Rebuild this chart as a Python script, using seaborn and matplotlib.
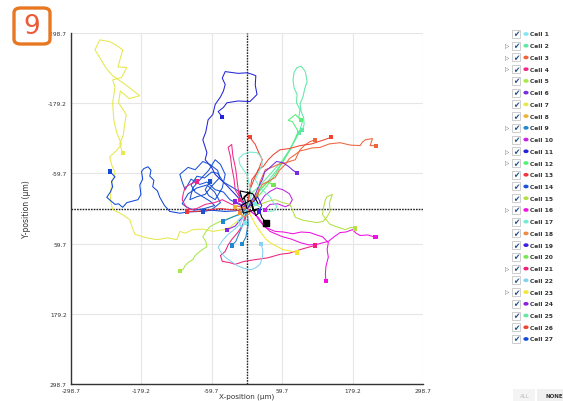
import numpy as np
import pandas as pd
import matplotlib.pyplot as plt
import seaborn as sns
from matplotlib.patches import FancyBboxPatch, Rectangle, Circle

# ---- cell colours (legend order) ----
cell_names = [f"Cell {i}" for i in range(1, 28)]
cell_colors = ["#7fe6f2", "#5fe8a4", "#f0643c", "#f0288a", "#a8e84a", "#7a2ce0",
               "#e6e84c", "#f0b232", "#1e88d0", "#c424e4", "#2424d8", "#52f074",
               "#f03440", "#1a52d4", "#b4e044", "#f010e0", "#72ecd2", "#f08a40",
               "#3a20e0", "#74e852", "#f0207a", "#84d2f2", "#f0e830", "#8a22e0",
               "#62e8a2", "#f04432", "#1048d8"]
has_arrow = [2, 3, 4, 9, 11, 12, 16, 21, 23]

# ---- tracks in µm (x, y) ; y axis is drawn inverted ----
cell7_a = [(0, 0), (-12, 18), (-29, 32), (-40, 36), (-58, 39), (-75, 35), (-92, 36), (-105, 42),
           (-114, 39), (-119, 53), (-135, 50), (-153, 53), (-170, 50), (-190, 44), (-195, 32),
           (-199, 19), (-212, 10), (-228, 2), (-232, -15), (-230, -41), (-224, -61), (-230, -75),
           (-233, -88), (-222, -98), (-213, -109), (-221, -129), (-226, -150), (-228, -180),
           (-224, -207), (-228, -219), (-213, -223), (-204, -240), (-219, -241), (-211, -270),
           (-222, -278), (-233, -284), (-250, -287), (-258, -270), (-250, -257), (-240, -240),
           (-228, -226), (-205, -210), (-182, -192), (-200, -187), (-215, -200), (-218, -180),
           (-205, -160), (-208, -140), (-210, -125), (-216, -110), (-211, -94)]
cell11_a = [(0, 0), (-12, -15), (-20, -24), (-35, -40), (-54, -58), (-60, -70), (-71, -83),
            (-68, -95), (-75, -117), (-70, -130), (-66, -151), (-58, -160), (-54, -177),
            (-45, -190), (-40, -200), (-37, -211), (-42, -222), (-37, -233), (-15, -230),
            (0, -231), (10, -228), (15, -226), (14, -210), (17, -194), (5, -182), (-15, -183),
            (-34, -180), (-40, -172), (-49, -165), (-42, -156)]
cell14_a = [(0, 0), (-29, -15), (-40, -28), (-54, -32), (-68, -45), (-80, -41), (-95, -50),
            (-105, -32), (-110, -45), (-114, -58), (-100, -70), (-88, -66), (-75, -80),
            (-63, -75), (-50, -65), (-46, -53), (-60, -38), (-71, -24), (-85, -20), (-97, -15),
            (-92, -35), (-80, -49), (-65, -65), (-54, -83), (-45, -75), (-37, -58), (-42, -35),
            (-54, -15), (-65, -22), (-71, -32), (-63, -46)]
cell14_b = [(0, 0), (-15, -30), (-28, -38), (-40, -45), (-50, -60), (-60, -62), (-72, -52),
            (-85, -55), (-95, -40), (-88, -28), (-75, -20), (-62, -12), (-55, -5), (-72, 0),
            (-90, 3), (-102, -2), (-110, -8), (-100, -25), (-85, -35), (-68, -40), (-55, -28),
            (-45, -10), (-60, 2), (-75, 5)]
cell27_a = [(0, 0), (-20, 4), (-37, 5), (-60, 3), (-80, 5), (-100, 6), (-114, 8), (-131, 5),
            (-140, -5), (-148, -19), (-152, -30), (-160, -37), (-158, -48), (-165, -55),
            (-163, -65), (-168, -71), (-175, -68), (-179, -63), (-177, -50), (-182, -40),
            (-180, -24), (-185, -15), (-204, -10), (-211, -2), (-218, -8), (-224, -7),
            (-238, -19), (-232, -28), (-228, -37), (-230, -46), (-224, -54), (-233, -63)]
cell4_a = [(0, 0), (-12, -3), (-26, -7), (-42, -15), (-55, -10), (-71, -7), (-85, 0), (-97, 2),
           (-105, -5), (-110, -15), (-108, -26), (-105, -36), (-95, -42), (-85, -46)]
cell4_b = [(0, 0), (-10, -15), (-20, -32), (-22, -50), (-26, -71), (-28, -88), (-32, -104),
           (-26, -109), (-24, -90), (-19, -66), (-16, -40), (-12, -15)]
cell13_a = [(0, 0), (-15, 3), (-29, 2), (-45, 0), (-63, 2), (-75, 4), (-88, 5), (-102, 5)]
cell2_a = [(0, 0), (14, -15), (20, -28), (31, -41), (40, -52), (51, -66), (62, -82), (73, -100),
           (82, -118), (90, -134), (94, -148), (88, -155), (90, -168), (84, -180), (85, -194),
           (80, -205), (78, -219), (80, -232), (85, -240), (92, -242), (99, -233), (102, -216),
           (98, -204), (95, -190), (90, -178), (92, -165), (96, -155), (97, -143), (94, -134)]
cell12_a = [(0, 0), (10, -12), (22, -24), (35, -40), (48, -58), (60, -78), (73, -100),
            (80, -115), (87, -131), (77, -148), (70, -150), (82, -160), (92, -150)]
cell25_a = [(0, 0), (5, -24), (18, -35), (31, -49), (45, -65), (61, -83), (72, -100),
            (82, -117), (88, -128)]
cell20_a = [(0, 0), (8, -15), (14, -22), (20, -30), (28, -38), (35, -45), (45, -40)]
cell3_a = [(0, 0), (8, -10), (14, -19), (26, -41), (36, -46), (48, -53), (55, -65), (65, -75),
           (72, -85), (82, -92), (90, -98), (99, -100), (110, -103), (124, -104), (140, -110),
           (158, -112), (175, -108), (192, -107), (196, -113), (201, -117), (213, -119),
           (209, -107), (219, -107)]
cell3_b = [(0, 0), (19, -24), (22, -45), (31, -66), (42, -70), (53, -75), (66, -78),
           (82, -83), (86, -92), (90, -100), (98, -108), (107, -114), (116, -117)]
cell26_a = [(0, 0), (5, -32), (12, -50), (19, -66), (28, -72), (36, -83), (45, -92),
            (56, -100), (72, -102), (90, -107), (110, -110), (125, -115), (143, -121)]
cell26_b = [(0, 0), (8, -49), (18, -62), (26, -83), (20, -95), (14, -109), (5, -121)]
cell6_a = [(0, 0), (14, -24), (20, -38), (26, -49), (30, -62), (39, -70), (50, -80),
           (61, -78), (70, -72), (77, -66), (85, -60)]
cell10_a = [(0, 0), (12, -5), (22, -10), (30, -22), (39, -29), (50, -35), (61, -32),
            (72, -25), (77, -15), (72, -6), (65, -3), (52, -8), (39, -7), (30, 2)]
cell24_a = [(0, 0), (-12, -8), (-20, -12)]
cell24_b = [(0, 0), (-8, 15), (-20, 30), (-34, 36)]
cell17_a = [(0, 0), (8, -24), (4, -40), (0, -58), (-6, -66), (-12, -75), (-14, -85), (-7, -92),
            (5, -96), (17, -95), (24, -88), (26, -75), (20, -62), (14, -49), (22, -35),
            (39, -20), (45, -10), (51, -3), (45, 4), (36, 5), (25, 0), (14, -7)]
cell16_a = [(0, 0), (14, 10), (22, 22), (31, 32), (48, 39), (62, 40), (78, 43), (92, 40),
            (107, 41), (118, 45), (128, 48), (138, 58), (136, 70), (138, 83), (134, 98),
            (133, 112), (134, 124)]
cell16_b = [(0, 0), (19, 15), (28, 28), (39, 39), (60, 48), (75, 52), (90, 58), (105, 62),
            (119, 61), (130, 58), (138, 56), (148, 48), (158, 41), (168, 40), (179, 36),
            (185, 42), (192, 46), (205, 45), (218, 49)]
cell21_a = [(0, 0), (-7, 27), (-15, 40), (-26, 53), (-32, 62), (-37, 73), (-45, 80), (-42, 90),
            (-30, 92), (-20, 95), (-5, 90), (14, 87), (35, 84), (56, 78), (72, 76), (90, 70),
            (104, 66), (116, 63)]
cell15_a = [(0, 0), (10, -4), (22, -7), (35, -12), (48, -15), (60, -10), (73, -7), (78, 5),
            (82, 15), (95, 20), (107, 22), (118, 24), (129, 22), (136, 14), (141, 5),
            (140, -10), (145, -24), (136, -20), (133, -15), (130, -2), (128, 10), (135, 20),
            (141, 27), (155, 32), (167, 36), (176, 32), (184, 34)]
cell5_a = [(0, 0), (-15, 10), (-26, 15), (-37, 19), (-50, 24), (-63, 31), (-70, 40), (-75, 48),
           (-70, 56), (-68, 65), (-76, 70), (-80, 73), (-88, 80), (-92, 87), (-100, 92),
           (-105, 97), (-108, 103), (-114, 107)]
cell22_a = [(0, 0), (-12, 27), (-22, 36), (-32, 44), (-42, 55), (-49, 66), (-44, 75),
            (-37, 83), (-27, 90), (-17, 97), (-5, 102), (8, 104), (16, 100), (22, 95),
            (26, 84), (27, 73), (24, 60)]
cell9_a = [(0, 0), (-3, 19), (-12, 39), (-19, 56), (-26, 63)]
cell9_b = [(0, 0), (-12, 10), (-26, 15), (-41, 22)]
cell9_c = [(0, 0), (2, 27), (-2, 49), (-8, 60)]
cell23_a = [(0, 0), (14, 27), (20, 36), (26, 44), (32, 52), (39, 58), (50, 64), (61, 70),
            (72, 72), (85, 75)]
cell1_a = [(0, 0), (-5, 12), (-15, 20), (-10, 32), (-3, 25)]
cell8_a = [(0, 0), (-8, -3), (-15, 2), (-20, -2)]
cell18_a = [(0, 0), (5, 8), (-5, 15), (-12, 8)]
cell19_a = [(0, 0), (10, -10), (18, -20), (25, -5), (20, 5)]
selected = [(0, 0), (-5, -20), (5, -28), (-8, -15), (-12, -30), (10, -25), (18, -10),
            (8, -5), (12, 5), (20, 0), (-6, 8), (-10, -5), (6, -14), (15, 12), (22, 6),
            (25, 15), (32, 24)]

tracks = [(7, cell7_a), (11, cell11_a), (14, cell14_a), (14, cell14_b), (27, cell27_a),
          (4, cell4_a), (4, cell4_b), (13, cell13_a), (2, cell2_a), (12, cell12_a),
          (25, cell25_a), (20, cell20_a), (3, cell3_a), (3, cell3_b), (26, cell26_a),
          (26, cell26_b), (6, cell6_a), (10, cell10_a), (24, cell24_a), (24, cell24_b),
          (17, cell17_a), (16, cell16_a), (16, cell16_b), (21, cell21_a), (15, cell15_a),
          (5, cell5_a), (22, cell22_a), (9, cell9_a), (9, cell9_b), (9, cell9_c),
          (23, cell23_a), (1, cell1_a), (8, cell8_a), (18, cell18_a), (19, cell19_a)]

rows = []
for k, (c, pts) in enumerate(tracks):
    for j, (x, y) in enumerate(pts):
        rows.append({"track": k, "cell": f"Cell {c}", "step": j, "x": x, "y": y})
df = pd.DataFrame(rows)
ends = df.loc[df.groupby("track")["step"].idxmax()]
sel = pd.DataFrame(selected, columns=["x", "y"])

W, H = 563, 402
sns.set_style("white")
fig = plt.figure(figsize=(W / 100, H / 100), dpi=100)
ax = fig.add_axes([71 / W, 1 - 385 / H, 352 / W, 351 / H])

palette = dict(zip(cell_names, cell_colors))
sns.lineplot(data=df, x="x", y="y", hue="cell", units="track", estimator=None, sort=False,
             palette=palette, linewidth=0.75, legend=False, ax=ax)
sns.lineplot(data=sel, x="x", y="y", estimator=None, sort=False, color="black",
             linewidth=0.8, ax=ax)
sns.scatterplot(data=ends, x="x", y="y", hue="cell", palette=palette, marker="s", s=9,
                linewidth=0, legend=False, ax=ax, zorder=4)
ax.scatter([selected[-1][0]], [selected[-1][1]], marker="s", s=16, color="black", zorder=5)

ticks = [-298.7, -179.2, -59.7, 59.7, 179.2, 298.7]
ax.set_xlim(-298.7, 298.7)
ax.set_ylim(298.7, -298.7)
ax.set_xticks(ticks)
ax.set_yticks(ticks)
ax.set_xticklabels([f"{t:.1f}" for t in ticks])
ax.set_yticklabels([f"{t:.1f}" for t in ticks])
ax.grid(True, color="#e6e6e6", linewidth=0.8)
ax.set_axisbelow(True)
ax.axvline(0, color="#222222", linestyle=(0, (1.2, 0.8)), linewidth=1.0, zorder=1)
ax.axhline(0, color="#222222", linestyle=(0, (1.2, 0.8)), linewidth=1.0, zorder=1)
for s in ["top", "right"]:
    ax.spines[s].set_visible(False)
for s in ["left", "bottom"]:
    ax.spines[s].set_color("#333333")
    ax.spines[s].set_linewidth(1.0)
ax.tick_params(axis="both", labelsize=4.2, colors="#333333", length=2, width=0.6, pad=1)
ax.set_xlabel("X-position (µm)", fontsize=5.2, color="#333333")
ax.xaxis.set_label_coords(0.5, -8.5 / 351)
ax.set_ylabel("Y-position (µm)", fontsize=5.5, color="#333333", labelpad=12)

# ---- "9" badge ----
fig.patches.append(FancyBboxPatch((14 / W, 1 - 45 / H), 36 / W, 36 / H,
                                  boxstyle="round,pad=0,rounding_size=0.012",
                                  transform=fig.transFigure, facecolor="white",
                                  edgecolor="#e87722", linewidth=2.4))
fig.text(32 / W, 1 - 27 / H, "9", fontsize=19, color="#ec5a38", ha="center", va="center")

# ---- legend panel ----
for i, (name, col) in enumerate(zip(cell_names, cell_colors)):
    yc = 1 - (35 + i * 11.73) / H
    if i + 1 in has_arrow:
        fig.text(507 / W, yc, "▷", fontsize=4, color="#555555", ha="center", va="center")
    fig.patches.append(Rectangle((512 / W, yc - 4 / H), 8 / W, 8 / H, transform=fig.transFigure,
                                 facecolor="white", edgecolor="#bbbbbb", linewidth=0.5))
    fig.text(516 / W, yc, "✔", fontsize=5.5, color="#1f4e8c", ha="center", va="center")
    fig.patches.append(Circle((526 / W, yc), 2.6 / W, transform=fig.transFigure,
                              facecolor=col, edgecolor="none"))
    fig.text(530 / W, yc, name, fontsize=4.3, fontweight="bold", color="#333333",
             ha="left", va="center")

fig.patches.append(Rectangle((513 / W, 0), 22 / W, 12 / H,
                             transform=fig.transFigure, facecolor="#f4f4f4", edgecolor="none"))
fig.text(525 / W, 1 - 397 / H, "ALL", fontsize=4, color="#bbbbbb", ha="center", va="center")
fig.patches.append(Rectangle((537 / W, 0), 26 / W, 12 / H,
                             transform=fig.transFigure, facecolor="#f0f0f0", edgecolor="none"))
fig.text(554 / W, 1 - 397 / H, "NONE", fontsize=4, fontweight="bold", color="#333333",
         ha="center", va="center")

fig.savefig("out.png", dpi=100)
